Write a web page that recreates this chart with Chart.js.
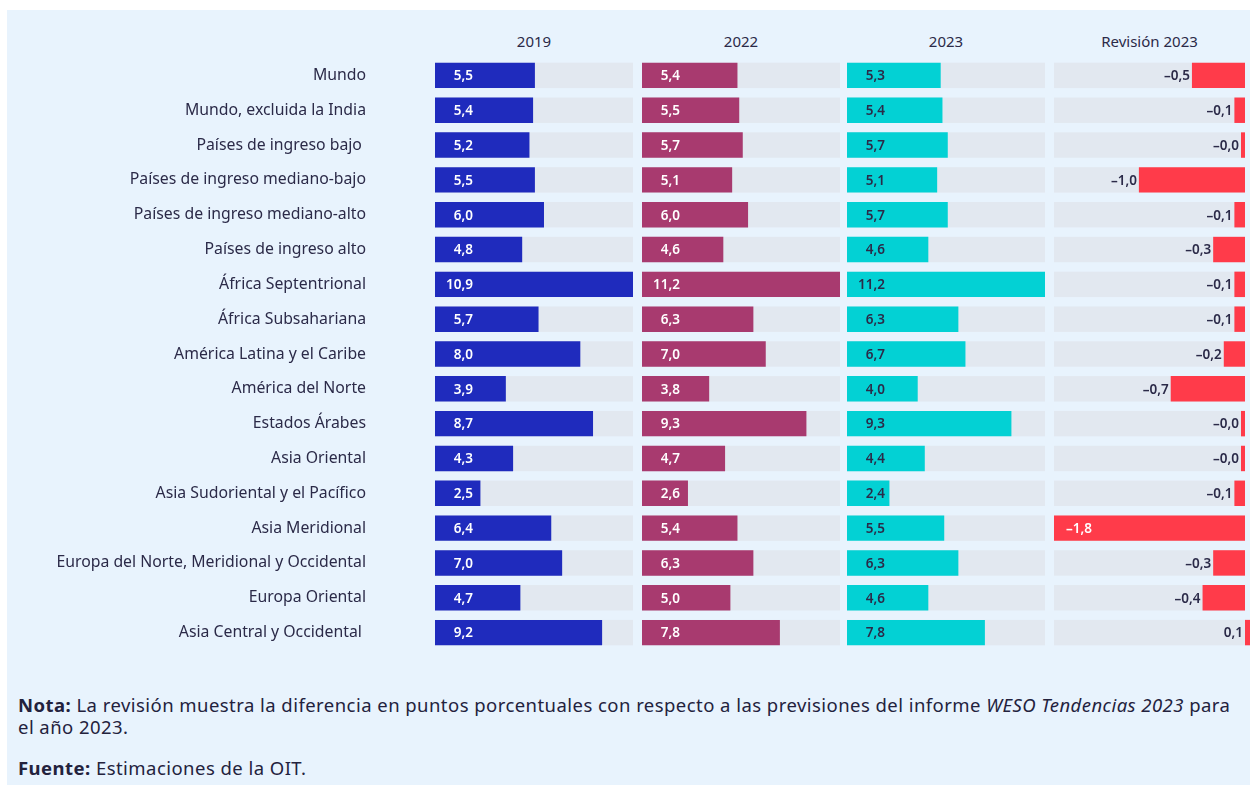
<!DOCTYPE html>
<html lang="es">
<head>
<meta charset="utf-8">
<script src="https://cdn.jsdelivr.net/npm/chart.js@4"></script>
<style>
  html, body { margin: 0; padding: 0; background: #ffffff; }
  body { width: 1250px; height: 785px; position: relative; overflow: hidden; font-family: "Noto Sans", sans-serif; color: #2b2a48; }
  #panel { position: absolute; left: 7px; top: 10px; width: 1250px; height: 780px; background: #e8f3fd; }
  .box { position: absolute; top: 58px; height: 592px; }
  .head { position: absolute; top: 31px; font-size: 15px; text-align: center; color: #2b2a48; }
  .note { position: absolute; left: 18px; width: 1240px; font-size: 18.5px; letter-spacing: 0.45px; line-height: 22px; color: #23223d; margin: 0; white-space: nowrap; }
</style>
</head>
<body>
<div id="panel"></div>

<div class="head" style="left:435px;width:198px">2019</div>
<div class="head" style="left:642px;width:198px">2022</div>
<div class="head" style="left:847px;width:198px">2023</div>
<div class="head" style="left:1054px;width:191px">Revisión 2023</div>

<div class="box" style="left:0px;width:633px"><canvas id="c2019"></canvas></div>
<div class="box" style="left:642px;width:198px"><canvas id="c2022"></canvas></div>
<div class="box" style="left:847px;width:198px"><canvas id="c2023"></canvas></div>
<div class="box" style="left:1054px;width:196px"><canvas id="crev"></canvas></div>

<p class="note" style="top:694px"><b>Nota:</b> La revisión muestra la diferencia en puntos porcentuales con respecto a las previsiones del informe <i>WESO Tendencias 2023</i> para<br>el año 2023.</p>
<p class="note" style="top:757px"><b>Fuente:</b> Estimaciones de la OIT.</p>

<script>
const regions = [
  "Mundo",
  "Mundo, excluida la India",
  "Países de ingreso bajo ",
  "Países de ingreso mediano-bajo",
  "Países de ingreso mediano-alto",
  "Países de ingreso alto",
  "África Septentrional",
  "África Subsahariana",
  "América Latina y el Caribe",
  "América del Norte",
  "Estados Árabes",
  "Asia Oriental",
  "Asia Sudoriental y el Pacífico",
  "Asia Meridional",
  "Europa del Norte, Meridional y Occidental",
  "Europa Oriental",
  "Asia Central y Occidental "
];
const values2019 = [5.5, 5.4, 5.2, 5.5, 6.0, 4.8, 10.9, 5.7, 8.0, 3.9, 8.7, 4.3, 2.5, 6.4, 7.0, 4.7, 9.2];
const values2022 = [5.4, 5.5, 5.7, 5.1, 6.0, 4.6, 11.2, 6.3, 7.0, 3.8, 9.3, 4.7, 2.6, 5.4, 6.3, 5.0, 7.8];
const values2023 = [5.3, 5.4, 5.7, 5.1, 5.7, 4.6, 11.2, 6.3, 6.7, 4.0, 9.3, 4.4, 2.4, 5.5, 6.3, 4.6, 7.8];
const revision2023 = [-0.5, -0.1, -0.0, -1.0, -0.1, -0.3, -0.1, -0.1, -0.2, -0.7, -0.0, -0.0, -0.1, -1.8, -0.3, -0.4, 0.1];

const textColor = "#2b2a48";
const trackColor = "#e2e8f0";
Chart.defaults.font.family = "'Noto Sans', sans-serif";

function fmt(v) {
  const neg = v < 0 || Object.is(v, -0);
  return (neg ? "–" : "") + Math.abs(v).toFixed(1).replace(".", ",");
}

// grey track behind each bar
const tracks = {
  id: "tracks",
  beforeDatasetsDraw(chart) {
    const ctx = chart.ctx;
    const area = chart.chartArea;
    const meta = chart.getDatasetMeta(0);
    ctx.save();
    ctx.fillStyle = trackColor;
    meta.data.forEach((bar) => {
      ctx.fillRect(area.left, bar.y - bar.height / 2, area.right - area.left, bar.height);
    });
    ctx.restore();
  }
};

// value labels
const valueLabels = {
  id: "valueLabels",
  afterDatasetsDraw(chart, args, opts) {
    const ctx = chart.ctx;
    const area = chart.chartArea;
    const meta = chart.getDatasetMeta(0);
    const data = chart.data.datasets[0].data;
    ctx.save();
    ctx.font = "600 13.5px 'Noto Sans', sans-serif";
    ctx.textBaseline = "middle";
    ctx.textAlign = "right";
    meta.data.forEach((bar, i) => {
      const txt = fmt(data[i]);
      if (opts.mode === "revision") {
        const leftEdge = Math.min(bar.x, bar.base);
        const w = ctx.measureText(txt).width;
        if (leftEdge - 3 - w < area.left) {
          ctx.fillStyle = "#ffffff";
          ctx.fillText(txt, area.left + 38, bar.y + 1);
        } else {
          ctx.fillStyle = textColor;
          ctx.fillText(txt, leftEdge - 2, bar.y + 1);
        }
      } else {
        ctx.fillStyle = opts.color;
        ctx.fillText(txt, area.left + 38, bar.y + 1);
      }
    });
    ctx.restore();
  }
};

function makeChart(id, values, color, xMin, xMax, showLabels, labelOpts, extra) {
  return new Chart(document.getElementById(id), {
    type: "bar",
    data: {
      labels: regions,
      datasets: [{
        data: values,
        backgroundColor: color,
        barPercentage: 0.73,
        categoryPercentage: 1,
        minBarLength: extra.minBarLength || 0,
        clip: extra.clip
      }]
    },
    options: {
      indexAxis: "y",
      responsive: true,
      maintainAspectRatio: false,
      animation: false,
      layout: { autoPadding: false, padding: { left: 0, right: extra.padRight || 0, top: 0, bottom: 0 } },
      plugins: {
        legend: { display: false },
        tooltip: { enabled: false },
        valueLabels: labelOpts
      },
      scales: {
        x: {
          display: false,
          min: xMin,
          max: xMax
        },
        y: {
          display: showLabels,
          grid: { display: false, drawTicks: false },
          border: { display: false },
          ticks: {
            padding: 69,
            color: textColor,
            font: { size: 15.8 }
          },
          afterFit: showLabels ? (scale) => { scale.width = 435; scale.paddingTop = 0; scale.paddingBottom = 0; } : undefined
        }
      }
    },
    plugins: [tracks, valueLabels]
  });
}

makeChart("c2019", values2019, "#1f2bbd", 0, 10.9, true, { color: "#ffffff" }, {});
makeChart("c2022", values2022, "#a83a6f", 0, 11.2, false, { color: "#ffffff" }, {});
makeChart("c2023", values2023, "#03d1d4", 0, 11.2, false, { color: textColor }, {});
makeChart("crev", revision2023, "#ff3b4a", -1.8, 0, false, { mode: "revision" }, { minBarLength: 4, clip: false, padRight: 5 });
</script>
</body>
</html>
